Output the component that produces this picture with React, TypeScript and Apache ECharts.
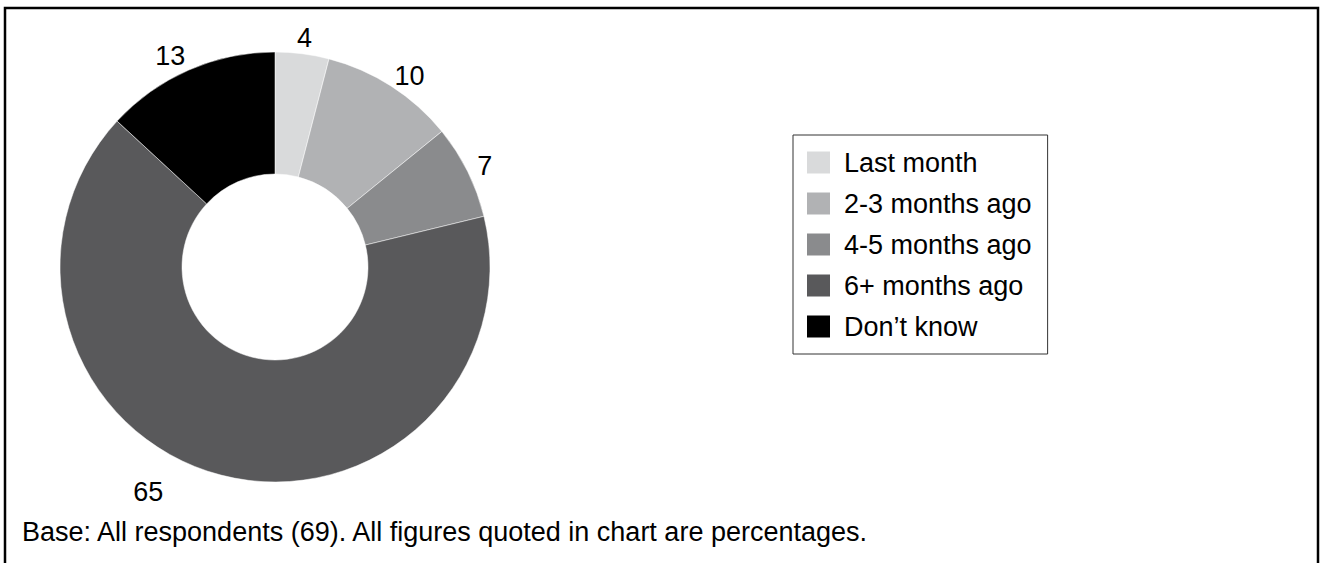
import React, { useEffect, useRef } from "react";
import * as echarts from "echarts";

const categories = ["Last month", "2-3 months ago", "4-5 months ago", "6+ months ago", "Don\u2019t know"];
const values = [4, 10, 7, 65, 13];
const colors = ["#d9dadb", "#b1b2b4", "#8a8b8d", "#59595b", "#000000"];
const footnote = "Base: All respondents (69). All figures quoted in chart are percentages.";

const FONT = "Liberation Sans, Arial, sans-serif";

export default function App() {
  const ref = useRef<HTMLDivElement>(null);
  useEffect(() => {
    const chart = echarts.init(ref.current!, null, { renderer: "svg" });
    const data = categories.map((name, i) => ({ name, value: values[i], itemStyle: { color: colors[i] } }));
    const labelShift: Record<number, { dx?: number; dy?: number }> = {
      1: { dx: 8, dy: 3 },
      3: { dx: -68, dy: -5 },
      4: { dx: -11 },
    };
    chart.setOption({
      animation: false,
      backgroundColor: "#ffffff",
      textStyle: { fontFamily: FONT },
      legend: {
        orient: "vertical",
        left: 793,
        top: 135,
        data: categories,
        itemWidth: 25,
        itemHeight: 24,
        itemGap: 14,
        padding: [14, 16, 14, 12],
        borderColor: "#333333",
        borderWidth: 1,
        icon: "rect",
        selectedMode: false,
        textStyle: { fontSize: 27, color: "#000", fontFamily: FONT, padding: [0, 0, 0, 8] },
      },
      graphic: [
        {
          type: "rect",
          shape: { x: 5, y: 8, width: 1313, height: 600 },
          style: { fill: "none", stroke: "#000", lineWidth: 2.5 },
          silent: true,
        },
        {
          type: "text",
          left: 22,
          top: 518,
          style: { text: footnote, fontSize: 27, fill: "#000", fontFamily: FONT },
        },
      ],
      series: [
        {
          type: "pie",
          center: [275, 267],
          radius: [93, 215],
          startAngle: 90,
          clockwise: true,
          data,
          label: { show: false },
          labelLine: { show: false },
          itemStyle: { borderColor: "#ffffff", borderWidth: 0.5 },
          silent: true,
        },
        {
          type: "pie",
          center: [275, 270],
          radius: [215, 247],
          startAngle: 90,
          clockwise: true,
          data: categories.map((name, i) => ({ name, value: values[i] })),
          itemStyle: { color: "rgba(0,0,0,0)" },
          label: {
            show: true,
            position: "inside",
            formatter: "{c}",
            fontSize: 27,
            color: "#000",
            fontFamily: FONT,
          },
          labelLayout: (p: any) => labelShift[p.dataIndex] || {},
          labelLine: { show: false },
          silent: true,
          legendHoverLink: false,
        },
      ],
    });
    return () => chart.dispose();
  }, []);
  return <div ref={ref} style={{ position: "fixed", left: 0, top: 0, width: 1322, height: 563 }} />;
}
